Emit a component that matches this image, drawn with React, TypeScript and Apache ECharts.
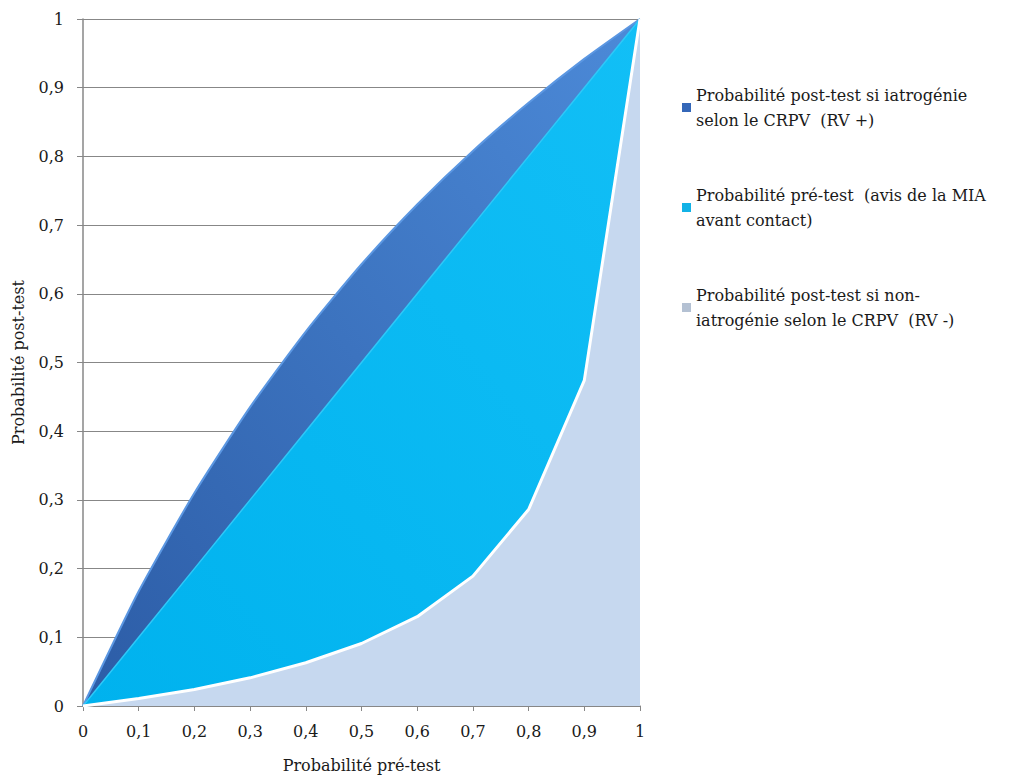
import React, { useEffect, useRef } from "react";
import * as echarts from "echarts";

// Pre-test probability on the category axis
const categories = ["0", "0,1", "0,2", "0,3", "0,4", "0,5", "0,6", "0,7", "0,8", "0,9", "1"];

// Post-test probability when the CRPV concludes iatrogenic (RV +)
const postTestPositive = [0, 0.167, 0.31, 0.435, 0.545, 0.643, 0.73, 0.808, 0.878, 0.942, 1];
// Pre-test probability (diagonal)
const preTest = [0, 0.1, 0.2, 0.3, 0.4, 0.5, 0.6, 0.7, 0.8, 0.9, 1];
// Post-test probability when the CRPV concludes non-iatrogenic (RV -)
const postTestNegative = [0, 0.011, 0.024, 0.041, 0.063, 0.091, 0.13, 0.189, 0.286, 0.474, 1];

const seriesNames = [
  "Probabilité post-test si iatrogénie\nselon le CRPV  (RV +)",
  "Probabilité pré-test  (avis de la MIA\navant contact)",
  "Probabilité post-test si non-\niatrogénie selon le CRPV  (RV -)",
];

const FONT = "DejaVu Serif";
const TEXT = "#1a1a1a";
const GRID = "#878787";

export default function App() {
  const ref = useRef<HTMLDivElement>(null);

  useEffect(() => {
    if (!ref.current) return;
    const chart = echarts.init(ref.current, undefined, { renderer: "svg" });

    const darkBlue = new echarts.graphic.LinearGradient(0, 1, 1, 0, [
      { offset: 0, color: "#2c5ca6" },
      { offset: 1, color: "#4c8ad8" },
    ]);
    const cyan = new echarts.graphic.LinearGradient(0, 1, 1, 0, [
      { offset: 0, color: "#00b2ee" },
      { offset: 1, color: "#12bff6" },
    ]);
    const pale = "#c6d8ef";

    chart.setOption({
      animation: false,
      backgroundColor: "#ffffff",
      grid: { left: 83, right: 376, top: 19, bottom: 72, containLabel: false },
      legend: {
        orient: "vertical",
        left: 682,
        top: 70,
        padding: 0,
        itemWidth: 9,
        itemHeight: 9,
        itemGap: 25,
        icon: "rect",
        selectedMode: false,
        textStyle: {
          fontFamily: FONT,
          fontSize: 16,
          color: TEXT,
          lineHeight: 25,
          padding: [25, 0, 0, 0],
        },
        data: [
          { name: seriesNames[0], itemStyle: { color: "#3467b8" } },
          { name: seriesNames[1], itemStyle: { color: "#12b2e6" } },
          { name: seriesNames[2], itemStyle: { color: "#b4c1d3" } },
        ],
      },
      xAxis: {
        type: "category",
        data: categories,
        boundaryGap: false,
        name: "Probabilité pré-test",
        nameLocation: "middle",
        nameGap: 51,
        nameTextStyle: { fontFamily: FONT, fontSize: 16, color: TEXT },
        axisLine: { lineStyle: { color: GRID, width: 1.5 } },
        axisTick: { show: true, length: 5, alignWithLabel: true, lineStyle: { color: GRID } },
        axisLabel: { fontFamily: FONT, fontSize: 16, color: TEXT, margin: 17 },
        splitLine: { show: false },
      },
      yAxis: {
        type: "value",
        min: 0,
        max: 1,
        interval: 0.1,
        name: "Probabilité post-test",
        nameLocation: "middle",
        nameGap: 57,
        nameTextStyle: { fontFamily: FONT, fontSize: 16, color: TEXT },
        axisLine: { show: true, lineStyle: { color: GRID, width: 1.5 } },
        axisTick: { show: true, length: 6, lineStyle: { color: GRID } },
        axisLabel: {
          fontFamily: FONT,
          fontSize: 16,
          color: TEXT,
          margin: 19,
          formatter: (v: number) => (Math.round(v * 10) / 10).toString().replace(".", ","),
        },
        splitLine: { show: true, lineStyle: { color: GRID, width: 1 } },
      },
      series: [
        {
          name: seriesNames[0],
          type: "line",
          data: postTestPositive,
          symbol: "none",
          smooth: 0.2,
          z: 2,
          lineStyle: { color: "#5b97e2", width: 2 },
          areaStyle: { color: darkBlue, opacity: 1 },
        },
        {
          name: seriesNames[1],
          type: "line",
          data: preTest,
          symbol: "none",
          z: 3,
          lineStyle: { color: "#2ec8f8", width: 1.5 },
          areaStyle: { color: cyan, opacity: 1 },
        },
        {
          name: seriesNames[2],
          type: "line",
          data: postTestNegative,
          symbol: "none",
          z: 4,
          lineStyle: { color: "#ffffff", width: 3 },
          areaStyle: { color: pale, opacity: 1 },
        },
      ],
    });

    return () => chart.dispose();
  }, []);

  return (
    <div
      ref={ref}
      style={{ position: "fixed", left: 0, top: 0, width: 1016, height: 778 }}
    />
  );
}
